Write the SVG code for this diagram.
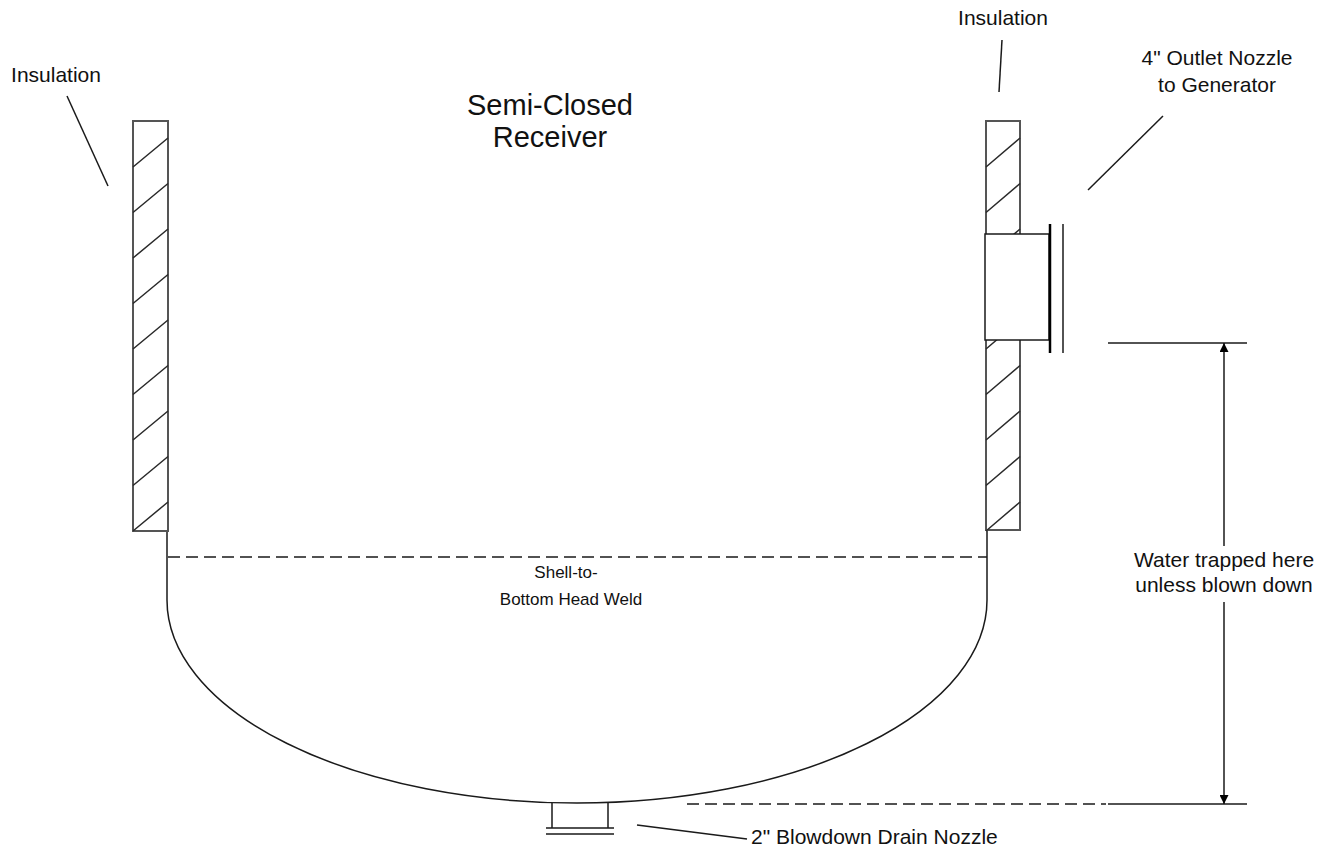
<svg xmlns="http://www.w3.org/2000/svg" width="1328" height="849" viewBox="0 0 1328 849">
  <style>
    .t { font-family: "Liberation Sans", Arial, sans-serif; font-size: 21px; fill: #111111; }
    .s { font-family: "Liberation Sans", Arial, sans-serif; font-size: 17px; fill: #111111; }
    .title { font-family: "Liberation Sans", Arial, sans-serif; font-size: 29px; fill: #111111; }
    .ins { fill: #ffffff; stroke: #555555; stroke-width: 2; }
    .hatch { stroke: #2a2a2a; stroke-width: 1.5; fill: none; }
    .ln { stroke: #1a1a1a; stroke-width: 1.5; fill: none; }
    .dash { stroke: #1a1a1a; stroke-width: 1.5; fill: none; stroke-dasharray: 12 6; }
  </style>
  <defs>
    <marker id="arr" viewBox="0 0 10 10" refX="10" refY="5" markerWidth="12" markerHeight="9" markerUnits="userSpaceOnUse" orient="auto">
      <path d="M0,0 L10,5 L0,10 Z" fill="#000"/>
    </marker>
  </defs>
  <rect width="1328" height="849" fill="#ffffff"/>

  <g id="title">
    <text class="title" x="550" y="115" text-anchor="middle">Semi-Closed</text>
    <text class="title" x="550" y="147" text-anchor="middle">Receiver</text>
  </g>

  <g id="vessel">
    <path class="ln" d="M167,531 L167,600 A410,203 0 0 0 987,600 L987,531"/>
    <line class="dash" x1="168" y1="557" x2="987" y2="557"/>
    <text class="s" x="566" y="578" text-anchor="middle">Shell-to-</text>
    <text class="s" x="571" y="605" text-anchor="middle">Bottom Head Weld</text>
  </g>

  <g id="insulation-left">
    <rect class="ins" x="133" y="121" width="35" height="410"/>
    <path class="hatch" d="M133,167 L168,138 M133,212.5 L168,183.5 M133,258 L168,229 M133,303.5 L168,274.5 M133,349 L168,320 M133,394.5 L168,365.5 M133,440 L168,411 M133,485.5 L168,456.5 M133,531 L168,502"/>
  </g>

  <g id="insulation-right">
    <rect class="ins" x="986" y="121" width="34" height="409"/>
    <path class="hatch" d="M986,167 L1020,138 M986,212.5 L1020,183.5 M986,258 L1020,229 M986,303.5 L1020,274.5 M986,349 L1020,320 M986,394.5 L1020,365.5 M986,440 L1020,411 M986,485.5 L1020,456.5 M986,531 L1020,502"/>
  </g>

  <g id="outlet-nozzle">
    <rect x="985" y="234" width="64" height="106" fill="#ffffff" stroke="#1a1a1a" stroke-width="1.5"/>
    <line x1="1050" y1="224" x2="1050" y2="353" stroke="#000" stroke-width="2.5"/>
    <line class="ln" x1="1063" y1="224" x2="1063" y2="353"/>
  </g>

  <g id="drain-nozzle">
    <path class="ln" d="M552,803 L552,828 M608,803 L608,828 M546,828 L614,828 M546,834 L614,834"/>
  </g>

  <g id="labels">
    <text class="t" x="56" y="82" text-anchor="middle">Insulation</text>
    <text class="t" x="1003" y="25" text-anchor="middle">Insulation</text>
    <text class="t" x="1217" y="65" text-anchor="middle">4" Outlet Nozzle</text>
    <text class="t" x="1217" y="92" text-anchor="middle">to Generator</text>
    <text class="t" x="1224" y="567" text-anchor="middle">Water trapped here</text>
    <text class="t" x="1224" y="592" text-anchor="middle">unless blown down</text>
    <text class="t" x="751" y="844">2" Blowdown Drain Nozzle</text>
  </g>

  <g id="connectors">
    <line class="ln" x1="67" y1="96" x2="108" y2="186"/>
    <line class="ln" x1="1002" y1="40" x2="999" y2="92"/>
    <line class="ln" x1="1163" y1="116" x2="1088" y2="190"/>
    <line class="ln" x1="637" y1="825" x2="747" y2="839"/>
    <line class="ln" x1="1108" y1="343" x2="1247" y2="343"/>
    <line class="dash" x1="687" y1="804" x2="1106" y2="804"/>
    <line class="ln" x1="1108" y1="804" x2="1247" y2="804"/>
    <line class="ln" x1="1224" y1="546" x2="1224" y2="343" marker-end="url(#arr)"/>
    <line class="ln" x1="1224" y1="602" x2="1224" y2="804" marker-end="url(#arr)"/>
  </g>
</svg>
